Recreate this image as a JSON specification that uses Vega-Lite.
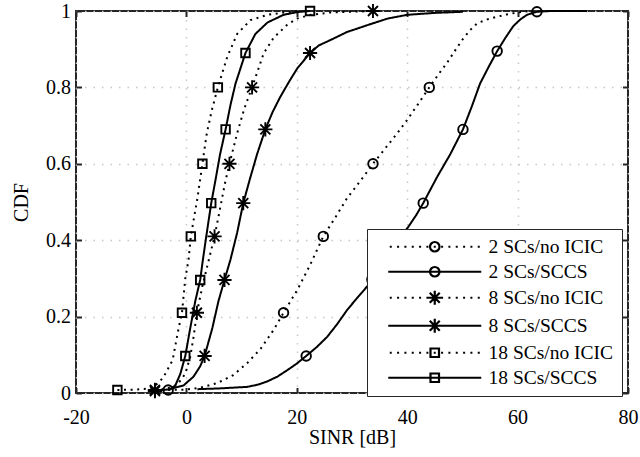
{
  "$schema": "https://vega.github.io/schema/vega-lite/v6.json",
  "width": 552,
  "height": 382,
  "autosize": {"type": "none"},
  "padding": {"left": 76, "top": 11, "right": 12, "bottom": 64},
  "background": "white",
  "config": {
    "view": {"stroke": "#262626", "strokeWidth": 2},
    "font": "Liberation Serif",
    "axis": {
      "labelFont": "Liberation Serif",
      "titleFont": "Liberation Serif",
      "labelColor": "black",
      "titleColor": "black",
      "labelFontSize": 20,
      "titleFontSize": 20,
      "titleFontWeight": "normal",
      "domain": false,
      "tickSize": -5.5,
      "tickWidth": 2,
      "tickColor": "#262626",
      "gridDash": [1.5, 7],
      "gridColor": "#c8c8c8",
      "gridWidth": 1.5,
      "labelFlush": false,
      "labelOverlap": false,
      "labelBound": false
    }
  },
  "datasets": {
    "d": [
      {"s": "2 SCs/no ICIC", "x": -3.3, "y": 0.008, "m": 1},
      {"s": "2 SCs/no ICIC", "x": 0, "y": 0.009, "m": 0},
      {"s": "2 SCs/no ICIC", "x": 2.5, "y": 0.014, "m": 0},
      {"s": "2 SCs/no ICIC", "x": 5.6, "y": 0.026, "m": 0},
      {"s": "2 SCs/no ICIC", "x": 8.5, "y": 0.047, "m": 0},
      {"s": "2 SCs/no ICIC", "x": 11, "y": 0.078, "m": 0},
      {"s": "2 SCs/no ICIC", "x": 13.4, "y": 0.115, "m": 0},
      {"s": "2 SCs/no ICIC", "x": 15.8, "y": 0.165, "m": 0},
      {"s": "2 SCs/no ICIC", "x": 17.6, "y": 0.21, "m": 1},
      {"s": "2 SCs/no ICIC", "x": 20.1, "y": 0.27, "m": 0},
      {"s": "2 SCs/no ICIC", "x": 22.4, "y": 0.335, "m": 0},
      {"s": "2 SCs/no ICIC", "x": 24.8, "y": 0.41, "m": 1},
      {"s": "2 SCs/no ICIC", "x": 27, "y": 0.46, "m": 0},
      {"s": "2 SCs/no ICIC", "x": 29.1, "y": 0.51, "m": 0},
      {"s": "2 SCs/no ICIC", "x": 31.5, "y": 0.555, "m": 0},
      {"s": "2 SCs/no ICIC", "x": 33.8, "y": 0.6, "m": 1},
      {"s": "2 SCs/no ICIC", "x": 36, "y": 0.64, "m": 0},
      {"s": "2 SCs/no ICIC", "x": 38.2, "y": 0.68, "m": 0},
      {"s": "2 SCs/no ICIC", "x": 40, "y": 0.715, "m": 0},
      {"s": "2 SCs/no ICIC", "x": 42, "y": 0.757, "m": 0},
      {"s": "2 SCs/no ICIC", "x": 44, "y": 0.8, "m": 1},
      {"s": "2 SCs/no ICIC", "x": 45.6, "y": 0.833, "m": 0},
      {"s": "2 SCs/no ICIC", "x": 47.2, "y": 0.864, "m": 0},
      {"s": "2 SCs/no ICIC", "x": 48.6, "y": 0.895, "m": 0},
      {"s": "2 SCs/no ICIC", "x": 50, "y": 0.925, "m": 0},
      {"s": "2 SCs/no ICIC", "x": 51.4, "y": 0.95, "m": 0},
      {"s": "2 SCs/no ICIC", "x": 52.7, "y": 0.968, "m": 0},
      {"s": "2 SCs/no ICIC", "x": 54.5, "y": 0.978, "m": 0},
      {"s": "2 SCs/no ICIC", "x": 56.3, "y": 0.985, "m": 0},
      {"s": "2 SCs/no ICIC", "x": 58, "y": 0.991, "m": 0},
      {"s": "2 SCs/no ICIC", "x": 59.9, "y": 0.996, "m": 0},
      {"s": "2 SCs/no ICIC", "x": 62, "y": 1, "m": 0},

      {"s": "2 SCs/SCCS", "x": 2, "y": 0.01, "m": 0},
      {"s": "2 SCs/SCCS", "x": 6, "y": 0.012, "m": 0},
      {"s": "2 SCs/SCCS", "x": 11, "y": 0.016, "m": 0},
      {"s": "2 SCs/SCCS", "x": 13, "y": 0.022, "m": 0},
      {"s": "2 SCs/SCCS", "x": 14.6, "y": 0.03, "m": 0},
      {"s": "2 SCs/SCCS", "x": 16.5, "y": 0.043, "m": 0},
      {"s": "2 SCs/SCCS", "x": 18.3, "y": 0.06, "m": 0},
      {"s": "2 SCs/SCCS", "x": 20, "y": 0.077, "m": 0},
      {"s": "2 SCs/SCCS", "x": 21.7, "y": 0.097, "m": 1},
      {"s": "2 SCs/SCCS", "x": 23.6, "y": 0.12, "m": 0},
      {"s": "2 SCs/SCCS", "x": 25.5, "y": 0.147, "m": 0},
      {"s": "2 SCs/SCCS", "x": 27.3, "y": 0.18, "m": 0},
      {"s": "2 SCs/SCCS", "x": 29.1, "y": 0.217, "m": 0},
      {"s": "2 SCs/SCCS", "x": 31, "y": 0.25, "m": 0},
      {"s": "2 SCs/SCCS", "x": 32.8, "y": 0.28, "m": 0},
      {"s": "2 SCs/SCCS", "x": 33.6, "y": 0.297, "m": 1},
      {"s": "2 SCs/SCCS", "x": 34.8, "y": 0.325, "m": 0},
      {"s": "2 SCs/SCCS", "x": 36.6, "y": 0.365, "m": 0},
      {"s": "2 SCs/SCCS", "x": 38.4, "y": 0.4, "m": 0},
      {"s": "2 SCs/SCCS", "x": 40.2, "y": 0.435, "m": 0},
      {"s": "2 SCs/SCCS", "x": 41.6, "y": 0.465, "m": 0},
      {"s": "2 SCs/SCCS", "x": 42.9, "y": 0.497, "m": 1},
      {"s": "2 SCs/SCCS", "x": 45.4, "y": 0.565, "m": 0},
      {"s": "2 SCs/SCCS", "x": 47.8, "y": 0.625, "m": 0},
      {"s": "2 SCs/SCCS", "x": 50.1, "y": 0.69, "m": 1},
      {"s": "2 SCs/SCCS", "x": 51.7, "y": 0.75, "m": 0},
      {"s": "2 SCs/SCCS", "x": 53.2, "y": 0.81, "m": 0},
      {"s": "2 SCs/SCCS", "x": 54.8, "y": 0.855, "m": 0},
      {"s": "2 SCs/SCCS", "x": 56.3, "y": 0.895, "m": 1},
      {"s": "2 SCs/SCCS", "x": 57.8, "y": 0.93, "m": 0},
      {"s": "2 SCs/SCCS", "x": 59.2, "y": 0.96, "m": 0},
      {"s": "2 SCs/SCCS", "x": 60.5, "y": 0.978, "m": 0},
      {"s": "2 SCs/SCCS", "x": 61.7, "y": 0.99, "m": 0},
      {"s": "2 SCs/SCCS", "x": 63.5, "y": 0.998, "m": 1},
      {"s": "2 SCs/SCCS", "x": 66, "y": 1, "m": 0},
      {"s": "2 SCs/SCCS", "x": 72.6, "y": 1, "m": 0},

      {"s": "8 SCs/no ICIC", "x": -5.7, "y": 0.008, "m": 1},
      {"s": "8 SCs/no ICIC", "x": -3.5, "y": 0.012, "m": 0},
      {"s": "8 SCs/no ICIC", "x": -1.7, "y": 0.021, "m": 0},
      {"s": "8 SCs/no ICIC", "x": -0.2, "y": 0.05, "m": 0},
      {"s": "8 SCs/no ICIC", "x": 0.7, "y": 0.095, "m": 0},
      {"s": "8 SCs/no ICIC", "x": 1.3, "y": 0.147, "m": 0},
      {"s": "8 SCs/no ICIC", "x": 1.9, "y": 0.21, "m": 1},
      {"s": "8 SCs/no ICIC", "x": 2.9, "y": 0.28, "m": 0},
      {"s": "8 SCs/no ICIC", "x": 4.0, "y": 0.345, "m": 0},
      {"s": "8 SCs/no ICIC", "x": 5.1, "y": 0.41, "m": 1},
      {"s": "8 SCs/no ICIC", "x": 6.2, "y": 0.49, "m": 0},
      {"s": "8 SCs/no ICIC", "x": 7.0, "y": 0.55, "m": 0},
      {"s": "8 SCs/no ICIC", "x": 7.8, "y": 0.6, "m": 1},
      {"s": "8 SCs/no ICIC", "x": 9.2, "y": 0.68, "m": 0},
      {"s": "8 SCs/no ICIC", "x": 10.5, "y": 0.745, "m": 0},
      {"s": "8 SCs/no ICIC", "x": 11.9, "y": 0.8, "m": 1},
      {"s": "8 SCs/no ICIC", "x": 14.0, "y": 0.889, "m": 0},
      {"s": "8 SCs/no ICIC", "x": 15.8, "y": 0.93, "m": 0},
      {"s": "8 SCs/no ICIC", "x": 18.2, "y": 0.963, "m": 0},
      {"s": "8 SCs/no ICIC", "x": 20, "y": 0.98, "m": 0},
      {"s": "8 SCs/no ICIC", "x": 22.5, "y": 0.99, "m": 0},
      {"s": "8 SCs/no ICIC", "x": 26, "y": 0.996, "m": 0},
      {"s": "8 SCs/no ICIC", "x": 33.8, "y": 1, "m": 1},

      {"s": "8 SCs/SCCS", "x": -5.7, "y": 0.005, "m": 1},
      {"s": "8 SCs/SCCS", "x": -3, "y": 0.01, "m": 0},
      {"s": "8 SCs/SCCS", "x": -0.5, "y": 0.02, "m": 0},
      {"s": "8 SCs/SCCS", "x": 1.3, "y": 0.043, "m": 0},
      {"s": "8 SCs/SCCS", "x": 2.5, "y": 0.07, "m": 0},
      {"s": "8 SCs/SCCS", "x": 3.3, "y": 0.097, "m": 1},
      {"s": "8 SCs/SCCS", "x": 4.7, "y": 0.17, "m": 0},
      {"s": "8 SCs/SCCS", "x": 5.8, "y": 0.24, "m": 0},
      {"s": "8 SCs/SCCS", "x": 6.9, "y": 0.296, "m": 1},
      {"s": "8 SCs/SCCS", "x": 8.0, "y": 0.35, "m": 0},
      {"s": "8 SCs/SCCS", "x": 9.2, "y": 0.42, "m": 0},
      {"s": "8 SCs/SCCS", "x": 10.3, "y": 0.497, "m": 1},
      {"s": "8 SCs/SCCS", "x": 11.5, "y": 0.56, "m": 0},
      {"s": "8 SCs/SCCS", "x": 12.8, "y": 0.625, "m": 0},
      {"s": "8 SCs/SCCS", "x": 14.3, "y": 0.69, "m": 1},
      {"s": "8 SCs/SCCS", "x": 15.6, "y": 0.735, "m": 0},
      {"s": "8 SCs/SCCS", "x": 17, "y": 0.775, "m": 0},
      {"s": "8 SCs/SCCS", "x": 18.6, "y": 0.815, "m": 0},
      {"s": "8 SCs/SCCS", "x": 20.1, "y": 0.85, "m": 0},
      {"s": "8 SCs/SCCS", "x": 22.4, "y": 0.89, "m": 1},
      {"s": "8 SCs/SCCS", "x": 24, "y": 0.91, "m": 0},
      {"s": "8 SCs/SCCS", "x": 26.1, "y": 0.924, "m": 0},
      {"s": "8 SCs/SCCS", "x": 29.1, "y": 0.945, "m": 0},
      {"s": "8 SCs/SCCS", "x": 32.8, "y": 0.963, "m": 0},
      {"s": "8 SCs/SCCS", "x": 36.4, "y": 0.98, "m": 0},
      {"s": "8 SCs/SCCS", "x": 40, "y": 0.99, "m": 0},
      {"s": "8 SCs/SCCS", "x": 45, "y": 0.995, "m": 0},
      {"s": "8 SCs/SCCS", "x": 50.1, "y": 0.998, "m": 0},

      {"s": "18 SCs/no ICIC", "x": -12.5, "y": 0.008, "m": 1},
      {"s": "18 SCs/no ICIC", "x": -9, "y": 0.009, "m": 0},
      {"s": "18 SCs/no ICIC", "x": -6.5, "y": 0.012, "m": 0},
      {"s": "18 SCs/no ICIC", "x": -5.6, "y": 0.02, "m": 0},
      {"s": "18 SCs/no ICIC", "x": -4.2, "y": 0.04, "m": 0},
      {"s": "18 SCs/no ICIC", "x": -2.5, "y": 0.086, "m": 0},
      {"s": "18 SCs/no ICIC", "x": -1.4, "y": 0.17, "m": 0},
      {"s": "18 SCs/no ICIC", "x": -0.8, "y": 0.21, "m": 1},
      {"s": "18 SCs/no ICIC", "x": -0.2, "y": 0.3, "m": 0},
      {"s": "18 SCs/no ICIC", "x": 0.4, "y": 0.35, "m": 0},
      {"s": "18 SCs/no ICIC", "x": 0.8, "y": 0.41, "m": 1},
      {"s": "18 SCs/no ICIC", "x": 2, "y": 0.51, "m": 0},
      {"s": "18 SCs/no ICIC", "x": 2.9, "y": 0.6, "m": 1},
      {"s": "18 SCs/no ICIC", "x": 3.7, "y": 0.68, "m": 0},
      {"s": "18 SCs/no ICIC", "x": 4.6, "y": 0.74, "m": 0},
      {"s": "18 SCs/no ICIC", "x": 5.7, "y": 0.8, "m": 1},
      {"s": "18 SCs/no ICIC", "x": 7.4, "y": 0.88, "m": 0},
      {"s": "18 SCs/no ICIC", "x": 9.2, "y": 0.94, "m": 0},
      {"s": "18 SCs/no ICIC", "x": 11.6, "y": 0.976, "m": 0},
      {"s": "18 SCs/no ICIC", "x": 14.7, "y": 0.99, "m": 0},
      {"s": "18 SCs/no ICIC", "x": 17.6, "y": 0.996, "m": 0},
      {"s": "18 SCs/no ICIC", "x": 20, "y": 1, "m": 0},

      {"s": "18 SCs/SCCS", "x": -3.2, "y": 0.008, "m": 0},
      {"s": "18 SCs/SCCS", "x": -2, "y": 0.02, "m": 0},
      {"s": "18 SCs/SCCS", "x": -1.1, "y": 0.05, "m": 0},
      {"s": "18 SCs/SCCS", "x": -0.2, "y": 0.097, "m": 1},
      {"s": "18 SCs/SCCS", "x": 0.7, "y": 0.17, "m": 0},
      {"s": "18 SCs/SCCS", "x": 1.6, "y": 0.24, "m": 0},
      {"s": "18 SCs/SCCS", "x": 2.5, "y": 0.296, "m": 1},
      {"s": "18 SCs/SCCS", "x": 3.0, "y": 0.35, "m": 0},
      {"s": "18 SCs/SCCS", "x": 3.7, "y": 0.42, "m": 0},
      {"s": "18 SCs/SCCS", "x": 4.5, "y": 0.497, "m": 1},
      {"s": "18 SCs/SCCS", "x": 5.3, "y": 0.56, "m": 0},
      {"s": "18 SCs/SCCS", "x": 6.1, "y": 0.625, "m": 0},
      {"s": "18 SCs/SCCS", "x": 7.1, "y": 0.69, "m": 1},
      {"s": "18 SCs/SCCS", "x": 8.0, "y": 0.755, "m": 0},
      {"s": "18 SCs/SCCS", "x": 8.9, "y": 0.81, "m": 0},
      {"s": "18 SCs/SCCS", "x": 10.7, "y": 0.89, "m": 1},
      {"s": "18 SCs/SCCS", "x": 12.5, "y": 0.94, "m": 0},
      {"s": "18 SCs/SCCS", "x": 14.7, "y": 0.97, "m": 0},
      {"s": "18 SCs/SCCS", "x": 17.6, "y": 0.99, "m": 0},
      {"s": "18 SCs/SCCS", "x": 20, "y": 0.997, "m": 0},
      {"s": "18 SCs/SCCS", "x": 22.4, "y": 1, "m": 1}
    ]
  },
  "data": {"name": "d"},
  "layer": [
    {
      "mark": {"type": "line", "color": "black", "strokeWidth": 2, "strokeCap": "butt"},
      "encoding": {
        "x": {
          "field": "x", "type": "quantitative",
          "scale": {"domain": [-20, 80], "nice": false, "zero": false},
          "axis": {"values": [-20, 0, 20, 40, 60, 80], "labelExpr": "'' + datum.value", "title": "SINR [dB]", "grid": true, "labelPadding": 20, "titlePadding": 0}
        },
        "y": {
          "field": "y", "type": "quantitative",
          "scale": {"domain": [0, 1], "nice": false, "zero": false},
          "axis": {"values": [0, 0.2, 0.4, 0.6, 0.8, 1], "format": "~g", "title": "CDF", "grid": true, "labelPadding": 11, "titlePadding": 14}
        },
        "strokeDash": {
          "field": "s", "type": "nominal",
          "scale": {
            "domain": ["2 SCs/no ICIC", "2 SCs/SCCS", "8 SCs/no ICIC", "8 SCs/SCCS", "18 SCs/no ICIC", "18 SCs/SCCS"],
            "range": [[2, 4.6], [1, 0], [2, 4.6], [1, 0], [2, 4.6], [1, 0]]
          },
          "legend": null
        }
      }
    },
    {
      "transform": [{"filter": "datum.m == 1"}],
      "mark": {"type": "point", "filled": false, "color": "black", "strokeWidth": 1.9, "size": 100, "opacity": 1},
      "encoding": {
        "x": {"field": "x", "type": "quantitative", "axis": {"orient": "top", "values": [-20, 0, 20, 40, 60, 80], "labels": false, "title": null, "grid": false}},
        "y": {"field": "y", "type": "quantitative", "axis": {"orient": "right", "values": [0, 0.2, 0.4, 0.6, 0.8, 1], "labels": false, "title": null, "grid": false}},
        "shape": {
          "field": "s", "type": "nominal",
          "scale": {
            "domain": ["2 SCs/no ICIC", "2 SCs/SCCS", "8 SCs/no ICIC", "8 SCs/SCCS", "18 SCs/no ICIC", "18 SCs/SCCS"],
            "range": [
              "M0.95,0A0.95,0.95,0,1,1,-0.95,0A0.95,0.95,0,1,1,0.95,0Z",
              "M0.95,0A0.95,0.95,0,1,1,-0.95,0A0.95,0.95,0,1,1,0.95,0Z",
              "M0,-1.42V1.42M-1.42,0H1.42M-1,-1L1,1M-1,1L1,-1",
              "M0,-1.42V1.42M-1.42,0H1.42M-1,-1L1,1M-1,1L1,-1",
              "M-0.85,-0.85H0.85V0.85H-0.85Z",
              "M-0.85,-0.85H0.85V0.85H-0.85Z"
            ]
          },
          "legend": null
        }
      }
    },
    {
      "transform": [{"filter": "datum.m == 7"}],
      "mark": {"type": "point", "filled": false, "color": "black", "strokeWidth": 2, "size": 100, "opacity": 1},
      "encoding": {
        "x": {"field": "x", "type": "quantitative", "axis": null},
        "y": {"field": "y", "type": "quantitative", "axis": null},
        "shape": {
          "field": "s", "type": "nominal",
          "scale": {
            "domain": ["2 SCs/no ICIC", "2 SCs/SCCS", "8 SCs/no ICIC", "8 SCs/SCCS", "18 SCs/no ICIC", "18 SCs/SCCS"],
            "range": [
              "M-9,0H-8.6M-7.53,0H-7.13M-6.07,0H-5.67M-4.6,0H-4.2M-3.13,0H-2.73M-1.67,0H-1.27M-0.2,0H0.2M1.27,0H1.67M2.73,0H3.13M4.2,0H4.6M5.67,0H6.07M7.13,0H7.53M8.6,0H9M0.95,0A0.95,0.95,0,1,1,-0.95,0A0.95,0.95,0,1,1,0.95,0Z",
              "M-9.3,0H9.3M0.95,0A0.95,0.95,0,1,1,-0.95,0A0.95,0.95,0,1,1,0.95,0Z",
              "M-9,0H-8.6M-7.53,0H-7.13M-6.07,0H-5.67M-4.6,0H-4.2M-3.13,0H-2.73M-1.67,0H-1.27M-0.2,0H0.2M1.27,0H1.67M2.73,0H3.13M4.2,0H4.6M5.67,0H6.07M7.13,0H7.53M8.6,0H9M0,-1.42V1.42M-1.42,0H1.42M-1,-1L1,1M-1,1L1,-1",
              "M-9.3,0H9.3M0,-1.42V1.42M-1,-1L1,1M-1,1L1,-1",
              "M-9,0H-8.6M-7.53,0H-7.13M-6.07,0H-5.67M-4.6,0H-4.2M-3.13,0H-2.73M-1.67,0H-1.27M-0.2,0H0.2M1.27,0H1.67M2.73,0H3.13M4.2,0H4.6M5.67,0H6.07M7.13,0H7.53M8.6,0H9M-0.85,-0.85H0.85V0.85H-0.85Z",
              "M-9.3,0H9.3M-0.85,-0.85H0.85V0.85H-0.85Z"
            ]
          },
          "legend": {
            "orient": "none",
            "legendX": 291,
            "legendY": 218,
            "title": null,
            "symbolSize": 100,
            "symbolStrokeWidth": 2.2,
            "symbolStrokeColor": "black",
            "symbolFillColor": "transparent",
            "symbolOffset": 50,
            "labelOffset": 44,
            "labelFont": "Liberation Serif",
            "labelFontSize": 19.5,
            "labelColor": "black",
            "labelLimit": 0,
            "fillColor": "white",
            "strokeColor": "#262626",
            "padding": 8,
            "rowPadding": 4,
            "encode": {"legend": {"update": {"strokeWidth": {"value": 2}}}}
          }
        }
      }
    }
  ],
  "resolve": {
    "scale": {"shape": "independent"},
    "axis": {"x": "independent", "y": "independent"}
  }
}
